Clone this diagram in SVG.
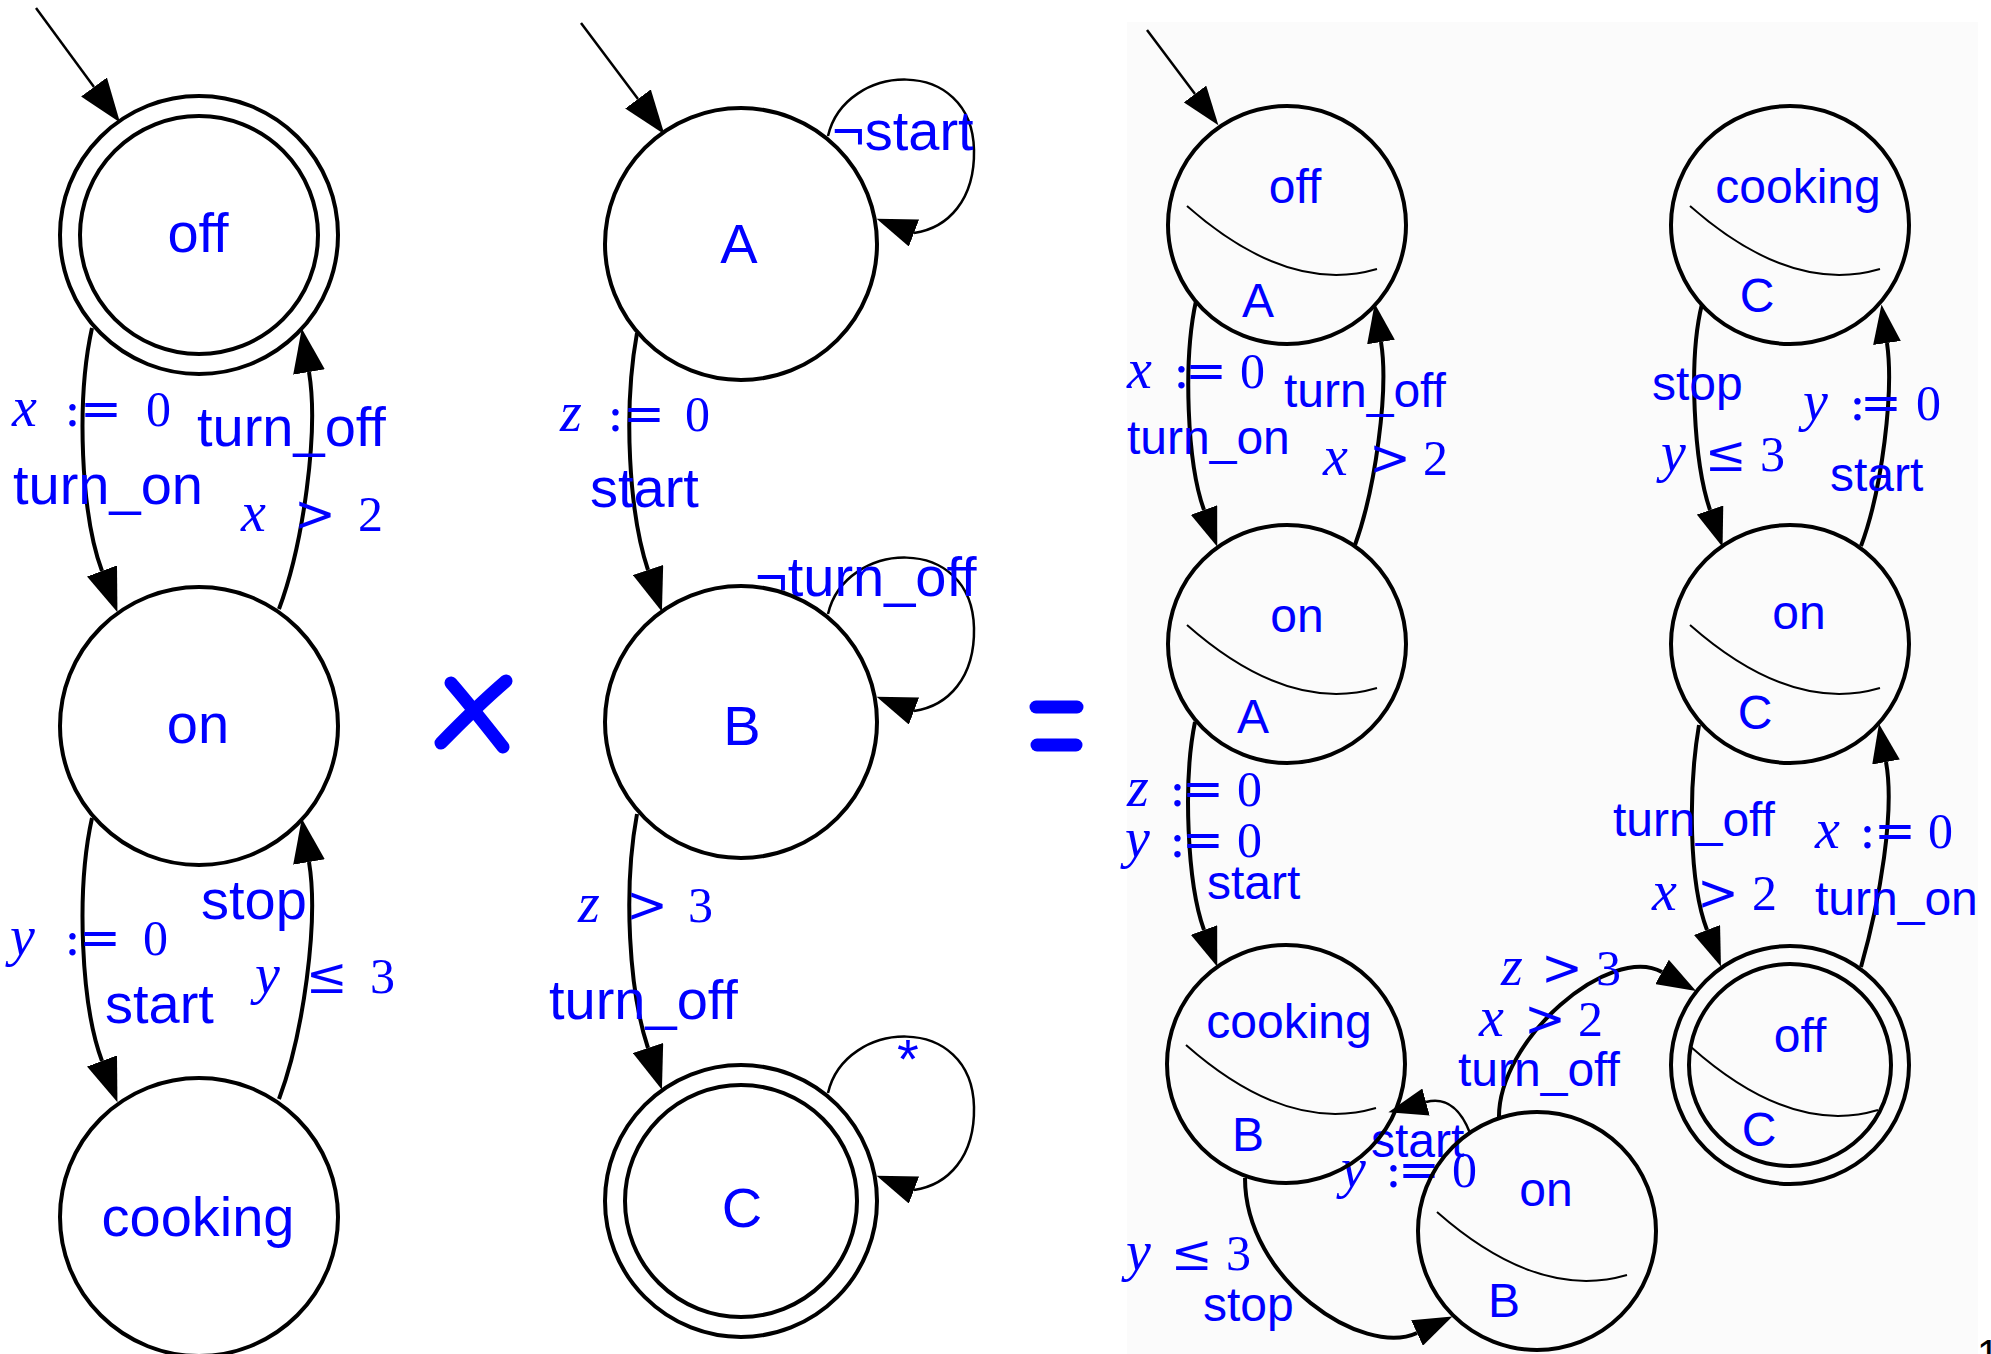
<svg xmlns="http://www.w3.org/2000/svg" width="1991" height="1354" viewBox="0 0 1991 1354">
<defs>
<style>
.nd{fill:none;stroke:#000;stroke-width:4}
.sep{fill:none;stroke:#000;stroke-width:2}
.e{fill:none;stroke:#000;stroke-width:4}
.t{fill:none;stroke:#000;stroke-width:2.5}
.lb{font-family:"Liberation Sans",Arial,sans-serif;fill:#00f}
.big{font-size:56px}
.sm{font-size:48px}
.m{font-family:"Liberation Serif","Times New Roman",serif;font-size:50px;fill:#00f}
.i{font-style:italic;font-size:56px}
.op{font-family:"DejaVu Serif",serif}
.sym{fill:none;stroke:#00f;stroke-width:13;stroke-linecap:round}
</style>
<marker id="ah" markerUnits="userSpaceOnUse" markerWidth="44" markerHeight="32" viewBox="0 0 44 32" refX="0" refY="16" orient="auto"><path d="M0,0L44,16L0,32z" fill="#000"/></marker>
<marker id="ahs" markerUnits="userSpaceOnUse" markerWidth="39" markerHeight="28" viewBox="0 0 39 28" refX="0" refY="14" orient="auto"><path d="M0,0L39,14L0,28z" fill="#000"/></marker>
<marker id="lp" markerUnits="userSpaceOnUse" markerWidth="40" markerHeight="29" viewBox="0 0 40 29" refX="0" refY="14.5" orient="200.7"><path d="M0,0L40,14.5L0,29z" fill="#000"/></marker>
</defs>
<rect x="0" y="0" width="1991" height="1354" fill="#fff"/>
<rect x="1127" y="22" width="851" height="1332" fill="#fbfbfb"/>

<!-- connectors -->
<g id="connectors">
<!-- left -->
<path class="t" d="M36,8 L94,87" marker-end="url(#ah)"/>
<path class="e" d="M92,328 C76,400 81,515 102,571" marker-end="url(#ah)"/>
<path class="e" d="M279,609 C303,545 319,432 309,372" marker-end="url(#ah)"/>
<path class="e" d="M92,818 C76,890 81,1005 102,1061" marker-end="url(#ah)"/>
<path class="e" d="M279,1099 C303,1035 319,922 309,862" marker-end="url(#ah)"/>
<!-- middle -->
<path class="t" d="M581,23 L638,99" marker-end="url(#ah)"/>
<path class="e" d="M637,333 C623,410 629,513 648,570" marker-end="url(#ah)"/>
<path class="e" d="M637,814 C623,890 629,991 648,1048" marker-end="url(#ah)"/>
<path class="t" d="M828,136 C845,62 972,55 974,150 C975,200 948,228 914,233" marker-end="url(#lp)"/>
<path class="t" d="M828,614 C845,540 972,533 974,628 C975,678 948,706 914,711" marker-end="url(#lp)"/>
<path class="t" d="M828,1093 C845,1019 972,1012 974,1107 C975,1157 948,1185 914,1190" marker-end="url(#lp)"/>
<!-- right -->
<path class="t" d="M1147,30 L1195,94" marker-end="url(#ahs)"/>
<path class="e" d="M1196,301 C1183,360 1187,463 1204,510" marker-end="url(#ahs)"/>
<path class="e" d="M1355,545 C1375,490 1389,391 1381,342" marker-end="url(#ahs)"/>
<path class="e" d="M1195,722 C1183,780 1187,883 1204,930" marker-end="url(#ahs)"/>
<path class="e" d="M1245,1178 C1245,1280 1363,1358 1417,1333" marker-end="url(#ahs)"/>
<path class="t" d="M1470,1133 C1462,1112 1448,1096 1426,1102" marker-end="url(#ahs)"/>
<path class="e" d="M1499,1119 C1497,1040 1610,943 1662,972" marker-end="url(#ahs)"/>
<path class="e" d="M1702,304 C1688,360 1694,463 1710,510" marker-end="url(#ahs)"/>
<path class="e" d="M1861,546 C1882,490 1894,392 1887,343" marker-end="url(#ahs)"/>
<path class="e" d="M1699,725 C1688,790 1689,883 1707,930" marker-end="url(#ahs)"/>
<path class="e" d="M1861,967 C1880,900 1895,811 1886,762" marker-end="url(#ahs)"/>
</g>

<!-- edge labels -->
<g id="edge-labels">
<text class="m" y="426"><tspan class="i" x="12">x</tspan><tspan class="op" x="64">:</tspan><tspan class="op" x="80">=</tspan><tspan x="146">0</tspan></text>
<text class="lb big" x="13" y="504">turn_on</text>
<text class="lb big" x="197" y="446">turn_off</text>
<text class="m" y="531"><tspan class="i" x="241">x</tspan><tspan class="op" x="294">&gt;</tspan><tspan x="358">2</tspan></text>
<text class="m" y="955"><tspan class="i" x="10">y</tspan><tspan class="op" x="64">:</tspan><tspan class="op" x="79">=</tspan><tspan x="143">0</tspan></text>
<text class="lb big" x="105" y="1023">start</text>
<text class="lb big" x="201" y="919">stop</text>
<text class="m" y="993"><tspan class="i" x="255">y</tspan><tspan class="op" x="306">≤</tspan><tspan x="370">3</tspan></text>

<text class="m" y="431"><tspan class="i" x="560">z</tspan><tspan class="op" x="607">:</tspan><tspan class="op" x="623">=</tspan><tspan x="685">0</tspan></text>
<text class="lb big" x="590" y="507">start</text>
<text class="lb big" x="832" y="150">¬start</text>
<text class="lb big" x="755" y="596">¬turn_off</text>
<text class="m" y="922"><tspan class="i" x="578">z</tspan><tspan class="op" x="626">&gt;</tspan><tspan x="688">3</tspan></text>
<text class="lb big" x="549" y="1019">turn_off</text>
<text class="lb big" x="908" y="1078" text-anchor="middle">*</text>

<text class="m" y="388"><tspan class="i" x="1127">x</tspan><tspan class="op" x="1173">:</tspan><tspan class="op" x="1185">=</tspan><tspan x="1240">0</tspan></text>
<text class="lb sm" x="1127" y="454">turn_on</text>
<text class="lb sm" x="1284" y="407">turn_off</text>
<text class="m" y="475"><tspan class="i" x="1323">x</tspan><tspan class="op" x="1369">&gt;</tspan><tspan x="1423">2</tspan></text>
<text class="m" y="806"><tspan class="i" x="1127">z</tspan><tspan class="op" x="1169">:</tspan><tspan class="op" x="1182">=</tspan><tspan x="1237">0</tspan></text>
<text class="m" y="857"><tspan class="i" x="1125">y</tspan><tspan class="op" x="1169">:</tspan><tspan class="op" x="1182">=</tspan><tspan x="1237">0</tspan></text>
<text class="lb sm" x="1207" y="899">start</text>
<text class="lb sm" x="1371" y="1157">start</text>
<text class="m" y="1187"><tspan class="i" x="1341">y</tspan><tspan class="op" x="1385">:</tspan><tspan class="op" x="1398">=</tspan><tspan x="1452">0</tspan></text>
<text class="m" y="1270"><tspan class="i" x="1126">y</tspan><tspan class="op" x="1171">≤</tspan><tspan x="1226">3</tspan></text>
<text class="lb sm" x="1203" y="1321">stop</text>
<text class="m" y="985"><tspan class="i" x="1501">z</tspan><tspan class="op" x="1541">&gt;</tspan><tspan x="1596">3</tspan></text>
<text class="m" y="1036"><tspan class="i" x="1479">x</tspan><tspan class="op" x="1524">&gt;</tspan><tspan x="1578">2</tspan></text>
<text class="lb sm" x="1458" y="1086">turn_off</text>
<text class="lb sm" x="1652" y="400">stop</text>
<text class="m" y="471"><tspan class="i" x="1661">y</tspan><tspan class="op" x="1705">≤</tspan><tspan x="1760">3</tspan></text>
<text class="m" y="420"><tspan class="i" x="1803">y</tspan><tspan class="op" x="1849">:</tspan><tspan class="op" x="1860">=</tspan><tspan x="1916">0</tspan></text>
<text class="lb sm" x="1830" y="491">start</text>
<text class="lb sm" x="1613" y="836">turn_off</text>
<text class="m" y="910"><tspan class="i" x="1652">x</tspan><tspan class="op" x="1697">&gt;</tspan><tspan x="1752">2</tspan></text>
<text class="m" y="848"><tspan class="i" x="1815">x</tspan><tspan class="op" x="1859">:</tspan><tspan class="op" x="1874">=</tspan><tspan x="1928">0</tspan></text>
<text class="lb sm" x="1815" y="915">turn_on</text>
</g>

<!-- left automaton -->
<g id="L-off"><circle class="nd" cx="199" cy="235" r="139"/><circle class="nd" cx="199" cy="235" r="119"/><text class="lb big" x="198" y="252" text-anchor="middle">off</text></g>
<g id="L-on"><circle class="nd" cx="199" cy="726" r="139"/><text class="lb big" x="198" y="743" text-anchor="middle">on</text></g>
<g id="L-cooking"><circle class="nd" cx="199" cy="1217" r="139"/><text class="lb big" x="198" y="1236" text-anchor="middle">cooking</text></g>

<!-- middle automaton -->
<g id="M-A"><circle class="nd" cx="741" cy="244" r="136"/><text class="lb big" x="739" y="263" text-anchor="middle">A</text></g>
<g id="M-B"><circle class="nd" cx="741" cy="722" r="136"/><text class="lb big" x="742" y="745" text-anchor="middle">B</text></g>
<g id="M-C"><circle class="nd" cx="741" cy="1201" r="136"/><circle class="nd" cx="741" cy="1201" r="116"/><text class="lb big" x="742" y="1227" text-anchor="middle">C</text></g>

<!-- operators -->
<g id="times-sign"><path class="sym" d="M451,683 Q470,705 503,747"/><path class="sym" d="M506,681 Q478,705 441,743"/></g>
<g id="equals-sign"><path class="sym" d="M1036,707 L1077,707"/><path class="sym" d="M1037,745 L1076,745"/></g>

<!-- product automaton -->
<g id="P-off-A"><circle class="nd" cx="1287" cy="225" r="119"/><path class="sep" d="M1187,206 Q1288,295 1377,269"/><text class="lb sm" x="1295" y="203" text-anchor="middle">off</text><text class="lb sm" x="1258" y="317" text-anchor="middle">A</text></g>
<g id="P-on-A"><circle class="nd" cx="1287" cy="644" r="119"/><path class="sep" d="M1187,625 Q1288,714 1377,688"/><text class="lb sm" x="1297" y="632" text-anchor="middle">on</text><text class="lb sm" x="1253" y="733" text-anchor="middle">A</text></g>
<g id="P-cooking-B"><circle class="nd" cx="1286" cy="1064" r="119"/><path class="sep" d="M1186,1045 Q1287,1134 1376,1108"/><text class="lb sm" x="1289" y="1038" text-anchor="middle">cooking</text><text class="lb sm" x="1248" y="1151" text-anchor="middle">B</text></g>
<g id="P-on-B"><circle class="nd" cx="1537" cy="1231" r="119"/><path class="sep" d="M1437,1212 Q1538,1301 1627,1275"/><text class="lb sm" x="1546" y="1206" text-anchor="middle">on</text><text class="lb sm" x="1504" y="1317" text-anchor="middle">B</text></g>
<g id="P-cooking-C"><circle class="nd" cx="1790" cy="225" r="119"/><path class="sep" d="M1690,206 Q1791,295 1880,269"/><text class="lb sm" x="1798" y="203" text-anchor="middle">cooking</text><text class="lb sm" x="1757" y="312" text-anchor="middle">C</text></g>
<g id="P-on-C"><circle class="nd" cx="1790" cy="644" r="119"/><path class="sep" d="M1690,625 Q1791,714 1880,688"/><text class="lb sm" x="1799" y="629" text-anchor="middle">on</text><text class="lb sm" x="1755" y="729" text-anchor="middle">C</text></g>
<g id="P-off-C"><circle class="nd" cx="1790" cy="1065" r="119"/><circle class="nd" cx="1790" cy="1065" r="101"/><path class="sep" d="M1691,1047 Q1791,1136 1878,1110"/><text class="lb sm" x="1800" y="1052" text-anchor="middle">off</text><text class="lb sm" x="1759" y="1146" text-anchor="middle">C</text></g>

<text x="1977" y="1368" font-family="Liberation Sans,Arial,sans-serif" font-size="40" fill="#000">1</text>
</svg>
